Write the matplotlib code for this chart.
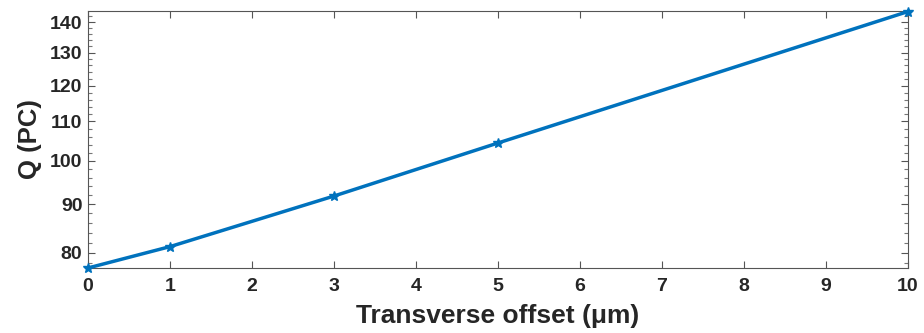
import matplotlib
matplotlib.use("Agg")
import matplotlib.pyplot as plt
from matplotlib.ticker import FixedLocator, NullFormatter, FixedFormatter

offset = [0, 1, 3, 5, 10]
charge = [77.1, 81.2, 91.8, 104.4, 143.6]
xticks = list(range(0, 11))
yticks = [80, 90, 100, 110, 120, 130, 140]
yminor = [v for v in range(78, 144, 2) if v not in yticks]

plt.rcParams['font.family'] = ['Liberation Sans', 'DejaVu Sans']
plt.rcParams['font.weight'] = 'bold'

fig = plt.figure(figsize=(9.24, 3.33), dpi=100)
ax = fig.add_axes([0.0952, 0.1952, 0.8874, 0.7718])
ax.plot(offset, charge, color='#0072BD', lw=2.5, marker='*', ms=7,
        clip_on=False, zorder=3)
ax.set_yscale('log')
ax.set_xlim(0, 10)
ax.set_ylim(77.1, 143.8)
ax.xaxis.set_major_locator(FixedLocator(xticks))
ax.yaxis.set_major_locator(FixedLocator(yticks))
ax.yaxis.set_major_formatter(FixedFormatter([str(v) for v in yticks]))
ax.yaxis.set_minor_locator(FixedLocator(yminor))
ax.yaxis.set_minor_formatter(NullFormatter())
ax.tick_params(axis='both', which='both', direction='in', top=True, right=True,
               colors='#262626', labelsize=14)
ax.tick_params(which='major', length=5, width=0.8, color='#555555')
ax.tick_params(which='minor', length=3, width=0.8, color='#777777')
ax.tick_params(axis='x', which='major', pad=7)
ax.tick_params(axis='y', which='major', pad=4)
for lab in ax.get_xticklabels() + ax.get_yticklabels():
    lab.set_fontweight('bold')
for s in ax.spines.values():
    s.set_color('#555555')
    s.set_linewidth(0.8)
ax.set_xlabel('Transverse offset (μm)', fontsize=19, fontweight='bold', color='#262626', labelpad=6.5)
ax.set_ylabel('Q (PC)', fontsize=18.5, fontweight='bold', color='#262626', labelpad=6)
fig.savefig('out.png', dpi=100)
